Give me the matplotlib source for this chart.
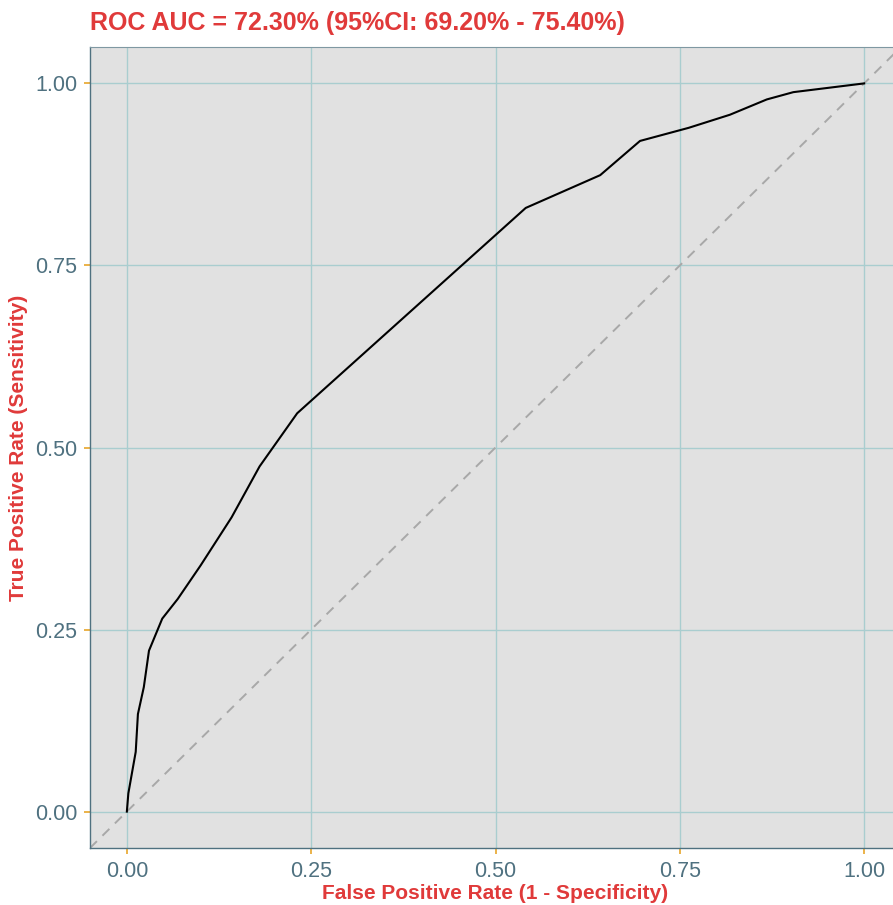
import matplotlib
matplotlib.use("Agg")
import matplotlib.pyplot as plt
from matplotlib import font_manager

# ROC curve points (false positive rate, true positive rate)
fpr = [0.000, 0.002, 0.012, 0.015, 0.023, 0.030, 0.048, 0.069, 0.100, 0.142,
       0.180, 0.231, 0.541, 0.642, 0.696, 0.762, 0.818, 0.868, 0.904, 1.000]
tpr = [0.000, 0.025, 0.082, 0.134, 0.171, 0.221, 0.265, 0.292, 0.338, 0.404,
       0.474, 0.547, 0.829, 0.874, 0.921, 0.939, 0.957, 0.978, 0.988, 1.000]

auc = 72.30
ci_low, ci_high = 69.20, 75.40
ticks = [0.00, 0.25, 0.50, 0.75, 1.00]
tick_labels = ["0.00", "0.25", "0.50", "0.75", "1.00"]

names = {f.name for f in font_manager.fontManager.ttflist}
narrow = "Liberation Sans Narrow" if "Liberation Sans Narrow" in names else "Liberation Sans"

red = "#E03A3A"
slate = "#4F7180"
grid_col = "#A9CDCF"
orange = "#E8A52A"

W, H = 893, 905
fig = plt.figure(figsize=(W / 100, H / 100), dpi=100)
ax = fig.add_axes([90 / W, (H - 848) / H, (901 - 90) / W, (848 - 47) / H])
ax.set_facecolor("#E1E1E1")

ax.set_xlim(-0.05, 1.05)
ax.set_ylim(-0.05, 1.05)

ax.plot([-0.05, 1.05], [-0.05, 1.05], color="#A8A8A8", lw=1.4,
        linestyle=(0, (5, 4)), zorder=2)
ax.plot(fpr, tpr, color="black", lw=1.5, zorder=3)

ax.set_xticks(ticks)
ax.set_yticks(ticks)
ax.set_xticklabels(tick_labels)
ax.set_yticklabels(tick_labels)
ax.grid(True, color=grid_col, lw=1.0, zorder=1)
ax.set_axisbelow(True)

ax.tick_params(axis="both", colors=orange, length=4, width=1.2,
               labelcolor=slate, labelsize=15.5, pad=5)
for lab in ax.get_xticklabels() + ax.get_yticklabels():
    lab.set_family("Liberation Sans")

for s in ax.spines.values():
    s.set_color(slate)
    s.set_linewidth(1.0)
ax.spines["top"].set_color("#7F98A2")
ax.spines["top"].set_linewidth(0.8)

ax.set_xlabel("False Positive Rate (1 - Specificity)", color=red,
              fontsize=15, fontweight="bold", family=narrow, labelpad=2)
ax.set_ylabel("True Positive Rate (Sensitivity)", color=red,
              fontsize=15, fontweight="bold", family=narrow, labelpad=5)

fig.text(90 / W, 1 - 23 / H,
         f"ROC AUC = {auc:.2f}% (95%CI: {ci_low:.2f}% - {ci_high:.2f}%)",
         color=red, fontsize=18, fontweight="bold", family=narrow,
         ha="left", va="center")

fig.savefig("out.png", dpi=100)
